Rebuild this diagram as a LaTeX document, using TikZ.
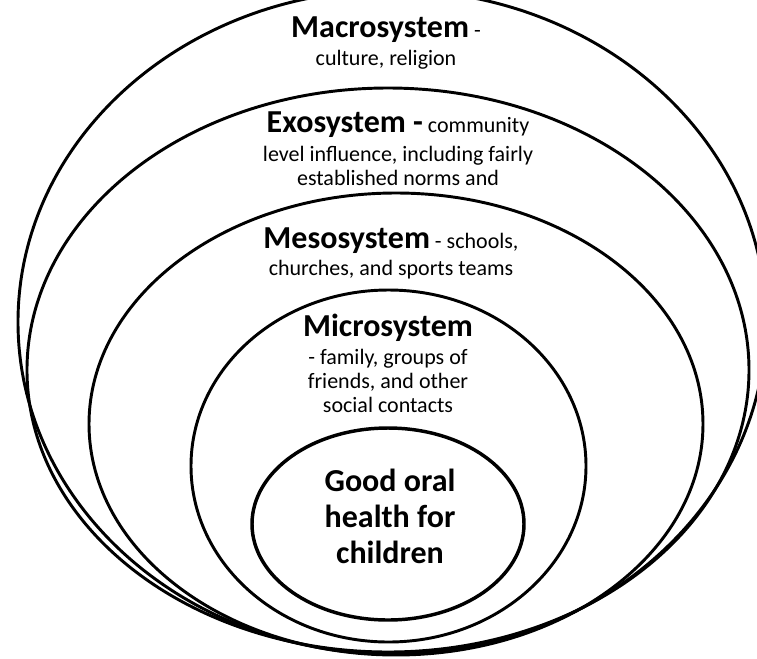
\documentclass[tikz,border=0pt]{standalone}
\usepackage{fontspec}
\setmainfont{Carlito}
\usetikzlibrary{shapes.geometric}
\tikzset{ring/.style={ellipse,draw,line width=2.2pt,inner sep=0pt}}
\tikzset{label text/.style={align=center,inner sep=0pt,anchor=base,font=\fontsize{16.5}{18}\selectfont}}
\newcommand{\sysname}[1]{{\fontsize{24}{24}\selectfont\bfseries #1}}

\begin{document}
\begin{tikzpicture}[x=0.75pt,y=-0.75pt]
        \useasboundingbox (0,0) rectangle (757,658);

        % nested system rings
        \node[ring, minimum width=561pt, minimum height=498pt] (macro) at (392,322) {};
        \node[ring, minimum width=541.5pt, minimum height=423pt] (exo) at (388,370) {};
        \node[ring, minimum width=460.5pt, minimum height=346.5pt] (meso) at (396,424) {};
        \node[ring, minimum width=296.25pt, minimum height=264pt] (micro) at (388.5,466) {};
        \node[ring, line width=2.6pt, minimum width=204pt, minimum height=144pt] (child) at (388,524) {};

        % labels (anchored at the base of their last line)
        \node[label text] (macro label) at (386,65) {\sysname{Macrosystem} -\\[3pt] culture, religion};
        \node[label text] (exo label) at (398,185) {\sysname{Exosystem -} community\\[3.75pt] level influence, including fairly\\ established norms and};
        \node[label text] (meso label) at (391,275) {\sysname{Mesosystem} - schools,\\[2.25pt] churches, and sports teams};
        \node[label text] (micro label) at (388,412) {\sysname{Microsystem}\\[3pt] - family, groups of\\ friends, and other\\ social contacts};
        \node[label text, font=\fontsize{24}{27}\selectfont\bfseries] (child label) at (390,563) {Good oral\\ health for\\ children};
\end{tikzpicture}
\end{document}
